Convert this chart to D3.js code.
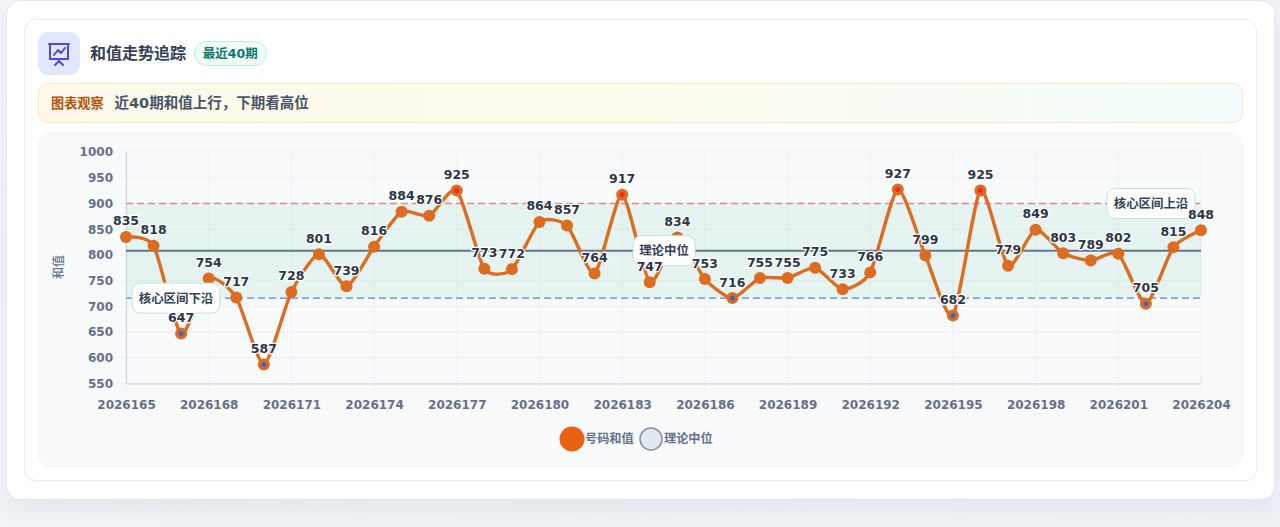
<!DOCTYPE html>
<html lang="zh"><head><meta charset="utf-8">
<script src="https://cdn.jsdelivr.net/npm/d3@7"></script>
<style>
html,body{margin:0;padding:0;width:1280px;height:527px;overflow:hidden;background:linear-gradient(135deg,#f1f5f9,#eef1f6);font-family:"DejaVu Sans","Noto Sans CJK SC",sans-serif}
.box{position:absolute;box-sizing:border-box}
#outer{left:5.5px;top:0;width:1269px;height:499.5px;background:#fff;border:1px solid #e2e8f0;border-radius:14px;box-shadow:0 10px 24px rgba(15,23,42,.05)}
#inner{left:23.5px;top:19px;width:1233px;height:462px;background:#fff;border:1px solid #e8edf3;border-radius:12px;box-shadow:0 1px 3px rgba(15,23,42,.03)}
#icon{left:37.5px;top:32px;width:42.5px;height:43px;background:#e0e7ff;border-radius:11px}
#title{left:90px;top:44px;font-size:16px;font-weight:600;color:#334155;line-height:20px;white-space:nowrap}
#badge{left:193.5px;top:41px;width:73.5px;height:25px;border-radius:13px;background:#effbf7;border:1px solid #c5ebe0;color:#0f766e;font-size:12.5px;font-weight:600;line-height:24px;text-align:center;white-space:nowrap}
#insight{left:37.5px;top:83px;width:1205.5px;height:40px;border-radius:10px;border:1px solid #fbe6bd;background:linear-gradient(90deg,#fff8eb,#fffcef 50%,#f2fdfb);line-height:39px;white-space:nowrap}
#insight b{position:absolute;left:12.5px;font-size:13.2px;color:#b45309;font-weight:600}
#insight span{position:absolute;left:76px;font-size:14.5px;color:#475569;font-weight:600}
#panel{left:37.5px;top:132px;width:1205.5px;height:335px;border-radius:12px;background:#f8fafc;border:1px solid #f3f6f9}
svg#chart{position:absolute;left:0;top:0}
</style></head><body>
<div class="box" id="outer"></div>
<div class="box" id="inner"></div>
<div class="box" id="icon"><svg width="42" height="43" viewBox="0 0 42 43" fill="none" stroke="#4f46e5" stroke-width="2" stroke-linecap="round" stroke-linejoin="round"><path d="M11 12h20M12 12v15h18V12M21 27v2M17 33l4-4 4 4M16 23l4-5 3 3 4-5"/></svg></div>
<div class="box" id="title">和值走势追踪</div>
<div class="box" id="badge">最近40期</div>
<div class="box" id="insight"><b>图表观察</b><span>近40期和值上行，下期看高位</span></div>
<div class="box" id="panel"></div>
<svg id="chart" width="1280" height="527"></svg>
<script>
const periods = d3.range(2026165, 2026205).map(String);
const sums = [835,818,647,754,717,587,728,801,739,816,884,876,925,773,772,864,857,764,917,747,834,753,716,755,755,775,733,766,927,799,682,925,779,849,803,789,802,705,815,848];
const yTicks = [550,600,650,700,750,800,850,900,950,1000];
const xTickLabels = periods.filter((d,i)=>i%3===0);
const coreLow = 716, coreHigh = 900, median = 808;
const refLabels = [["核心区间下沿",coreLow,176],["理论中位",median,664],["核心区间上沿",coreHigh,1151]];
const legendItems = [["号码和值","#ea610f","none"],["理论中位","#e2e8f0","#8390a4"]];

const L=126,R=1201,T=152,B=383.5;
const font='"DejaVu Sans","Noto Sans CJK SC",sans-serif';
const svg=d3.select("#chart").style("font-family",font);
const x=d3.scalePoint().domain(periods).range([L,R]);
const y=d3.scaleLinear().domain([550,1000]).range([B,T]);

// grid
svg.append("g").selectAll("line").data(yTicks).join("line")
 .attr("x1",L-8).attr("x2",R).attr("y1",d=>y(d)).attr("y2",d=>y(d)).attr("stroke","#edf1f5").attr("stroke-width",1);
svg.append("g").selectAll("line").data(xTickLabels).join("line")
 .attr("x1",d=>x(d)).attr("x2",d=>x(d)).attr("y1",T).attr("y2",B+8).attr("stroke","#edf1f5").attr("stroke-width",1);
// band
svg.append("rect").attr("x",L).attr("width",R-L).attr("y",y(coreHigh)).attr("height",y(coreLow)-y(coreHigh)).attr("fill","#10b36a").attr("opacity",.08);
// axes
const ay=svg.append("g").attr("transform",`translate(${L},0)`).call(d3.axisLeft(y).tickValues(yTicks).tickFormat(d3.format("d")).tickSize(0).tickPadding(13));
const ax=svg.append("g").attr("transform",`translate(0,${B})`).call(d3.axisBottom(x).tickValues(xTickLabels).tickSize(0).tickPadding(17));
[ay,ax].forEach(a=>{a.selectAll("text").attr("font-family",font).attr("font-size",12).attr("font-weight",700).attr("fill","#667085");a.select(".domain").attr("stroke","#d0d5dd").attr("stroke-width",1.2);});
svg.append("text").attr("transform","translate(59,267) rotate(-90)").attr("text-anchor","middle").attr("dominant-baseline","middle").attr("font-size",12).attr("font-weight",500).attr("fill","#64748b").text("和值");
// ref lines
svg.append("line").attr("x1",L).attr("x2",R).attr("y1",y(coreHigh)).attr("y2",y(coreHigh)).attr("stroke","#e5848a").attr("stroke-width",1.6).attr("stroke-dasharray","7 4");
svg.append("line").attr("x1",L).attr("x2",R).attr("y1",y(coreLow)).attr("y2",y(coreLow)).attr("stroke","#7fa5e0").attr("stroke-width",1.6).attr("stroke-dasharray","7 4");
svg.append("line").attr("x1",L).attr("x2",R).attr("y1",y(median)).attr("y2",y(median)).attr("stroke","#64748b").attr("stroke-width",2);
// series
const line=d3.line().x((d,i)=>x(periods[i])).y(d=>y(d)).curve(d3.curveCardinal.tension(0.35));
svg.append("path").datum(sums).attr("d",line).attr("fill","none").attr("stroke","#dd6b20").attr("stroke-width",3.4);
svg.append("g").selectAll("circle").data(sums).join("circle")
 .attr("cx",(d,i)=>x(periods[i])).attr("cy",d=>y(d)).attr("r",6).attr("fill","#dd6b20");
svg.append("g").selectAll("circle").data(sums.map((v,i)=>[v,i]).filter(d=>d[0]>coreHigh||d[0]<=coreLow)).join("circle")
 .attr("cx",d=>x(periods[d[1]])).attr("cy",d=>y(d[0])).attr("r",2.5).attr("fill",d=>d[0]>coreHigh?"#ef2b1d":"#3b66c9");
// ref label boxes
const rl=svg.append("g").selectAll("g").data(refLabels).join("g");
rl.each(function(d){
 const w=d[0].length===6?88:62;
 const g=d3.select(this);
 g.append("rect").attr("x",d[2]-w/2).attr("y",y(d[1])-15).attr("width",w).attr("height",30).attr("rx",8).attr("fill","#fff").attr("stroke","#bfe3dc").attr("stroke-width",1);
 g.append("text").attr("x",d[2]).attr("y",y(d[1])).attr("dy","0.36em").attr("text-anchor","middle").attr("font-size",12.4).attr("font-weight",600).attr("fill","#334155").text(d[0]);
});
// value labels
svg.append("g").selectAll("text").data(sums).join("text")
 .attr("x",(d,i)=>x(periods[i])).attr("y",d=>y(d)-11.5).attr("text-anchor","middle")
 .attr("font-size",12.5).attr("font-weight",700).attr("fill","#2b3648")
 .attr("stroke","#fff").attr("stroke-width",2.5).attr("paint-order","stroke").attr("stroke-linejoin","round").text(d=>d);
// legend
const lx=[572,651], lt=[585,664];
const lg=svg.append("g").selectAll("g").data(legendItems).join("g");
lg.append("circle").attr("cx",(d,i)=>lx[i]).attr("cy",439).attr("r",(d,i)=>i?11:12.5).attr("fill",d=>d[1]).attr("stroke",d=>d[2]).attr("stroke-width",1.5);
lg.append("text").attr("x",(d,i)=>lt[i]).attr("y",439).attr("dy","0.36em").attr("font-size",12.2).attr("font-weight",600).attr("fill","#64748b").text(d=>d[0]);
</script></body></html>
